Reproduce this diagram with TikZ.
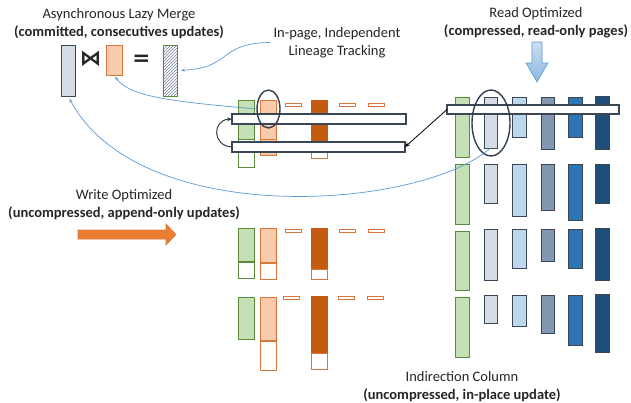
\documentclass[tikz,border=0pt]{standalone}
\usepackage{fontspec}
\setmainfont{Carlito}
\newfontfamily\symfont{DejaVu Sans}
\usetikzlibrary{arrows.meta,patterns,shadows,shapes.geometric}
\definecolor{cgrey}{HTML}{D6DCE5}
\definecolor{clblue}{HTML}{BDD7EE}
\definecolor{cmblue}{HTML}{8497B0}
\definecolor{hatchcol}{HTML}{6F819C}
\definecolor{cblue}{HTML}{2E75B6}
\definecolor{cdblue}{HTML}{1F4E79}
\definecolor{barline}{HTML}{3B4656}
\definecolor{cgreen}{HTML}{C5E0B4}
\definecolor{greenline}{HTML}{5A8A3C}
\definecolor{cpale}{HTML}{F8CBAD}
\definecolor{paleline}{HTML}{D9773A}
\definecolor{cdorange}{HTML}{C55A11}
\definecolor{corange}{HTML}{ED7D31}
\definecolor{curveblue}{HTML}{5B9BD5}
\definecolor{ringcol}{HTML}{333F50}
\tikzset{
  bar/.style={line width=1pt,inner sep=0pt,outer sep=0pt,anchor=north west},
  shad/.style={drop shadow={opacity=0.25,shadow xshift=0.8pt,shadow yshift=-0.8pt}},
  greybar/.style={bar,shad,draw=barline,fill=cgrey},
  lbluebar/.style={bar,shad,draw=barline,fill=clblue},
  mbluebar/.style={bar,shad,draw=barline,fill=cmblue},
  bluebar/.style={bar,shad,draw=barline,fill=cblue},
  dbluebar/.style={bar,shad,draw=barline,fill=cdblue},
  greenbar/.style={bar,shad,draw=greenline,fill=cgreen},
  greenempty/.style={bar,draw=greenline,fill=white},
  palebar/.style={bar,shad,draw=paleline,fill=cpale},
  orangeempty/.style={bar,draw=paleline,fill=white},
  dorangebar/.style={bar,shad,draw=cdorange,fill=cdorange},
  dashbox/.style={bar,draw=paleline,fill=white},
  hatchbar/.style={bar,draw=greenline,pattern=north east lines,pattern color=hatchcol},
  rowbox/.style={bar,draw=barline,fill=white,line width=1.15pt},
  ring/.style={ellipse,draw=ringcol,line width=1.4pt,inner sep=0pt},
  bluecurve/.style={draw=curveblue,line width=0.7pt,-{Stealth[length=4pt,width=3pt]}},
  blackarrow/.style={draw=black,line width=0.8pt,-{Stealth[length=5pt,width=4pt]}},
  darkarrow/.style={draw=ringcol,line width=1pt,-{Stealth[length=5pt,width=4pt]}},
  txt/.style={align=center,font=\fontsize{14.5}{18}\selectfont,text=black!85},
  symb/.style={inner sep=0pt,font=\symfont\bfseries\fontsize{21.5}{22}\selectfont,text=black!85}
}
\newcommand\mkbar[6]{\node[#1,minimum width={(#4-#2)*1pt},minimum height={(#5-#3)*1pt}] (#6) at (#2,#3) {};}
\begin{document}
\begin{tikzpicture}[x=1pt,y=-1pt]
\path[use as bounding box,fill=white] (0,0) rectangle (631,402);

% ---- legend (top left)
\node[txt] (lazy) at (119,24) {Asynchronous Lazy Merge\\\textbf{(committed, consecutives updates)}};
\mkbar{greybar}{61}{45}{75}{96}{mg}
\node[symb] (jn) at (90.5,58.5) {⋈};
\mkbar{palebar}{106}{45}{122}{75}{mo}
\node[symb] (eq) at (141.5,60) {=};
\mkbar{hatchbar}{163}{45}{177}{96}{mh}
\node[txt] (ip) at (337,42.5) {In-page, Independent\\Lineage Tracking};

% ---- read optimized label and arrow
\node[txt] (ro) at (536,22.5) {Read Optimized\\\textbf{(compressed, read-only pages)}};
\path[top color=clblue!80,bottom color=curveblue!70,draw=curveblue,line width=0.6pt]
  (532,42) -- (542,42) -- (542,63) -- (548,63) -- (537,82) -- (526,63) -- (532,63) -- cycle;

% ---- write optimized label and arrow
\node[txt] (wo) at (124,204.5) {Write Optimized\\\textbf{(uncompressed, append-only updates)}};
\path[fill=corange,draw=cdorange!80,line width=0.6pt]
  (78,230) -- (166,230) -- (166,224) -- (176,234.5) -- (166,245) -- (166,239) -- (78,239) -- cycle;

% ---- indirection label
\node[txt] (ic) at (462,386.5) {Indirection Column\\\textbf{(uncompressed, in-place update)}};

% ---- middle group, row 1
\mkbar{greenbar}{238}{100}{254}{139}{g1}
\mkbar{greenempty}{238}{139}{254}{167}{g1w}
\mkbar{palebar}{260}{100}{276}{139}{o1}
\mkbar{palebar}{260}{139}{276}{155}{o1b}
\mkbar{dashbox}{285}{103}{301}{106}{da1}
\mkbar{dorangebar}{311}{100}{327}{152}{d1}
\mkbar{orangeempty}{311}{152}{327}{158}{d1w}
\mkbar{dashbox}{339}{103}{355}{106}{db1}
\mkbar{dashbox}{368}{103}{384}{106}{dc1}
% row 2
\mkbar{greenbar}{238}{228}{254}{261}{g2}
\mkbar{greenempty}{238}{262}{254}{278}{g2w}
\mkbar{palebar}{260}{228}{276}{262}{o2}
\mkbar{orangeempty}{260}{263}{276}{279}{o2w}
\mkbar{dashbox}{285}{229}{301}{232}{da2}
\mkbar{dorangebar}{311}{228}{327}{268}{d2}
\mkbar{orangeempty}{311}{269}{327}{279}{d2w}
\mkbar{dashbox}{339}{229}{355}{232}{db2}
\mkbar{dashbox}{368}{229}{384}{232}{dc2}
% row 3
\mkbar{greenbar}{238}{297}{254}{339}{g3}
\mkbar{palebar}{260}{297}{276}{340}{o3}
\mkbar{orangeempty}{260}{341}{276}{370}{o3w}
\mkbar{dashbox}{283}{296}{299}{299}{da3}
\mkbar{dorangebar}{311}{296}{327}{352}{d3}
\mkbar{orangeempty}{311}{353}{327}{369}{d3w}
\mkbar{dashbox}{338}{296}{354}{299}{db3}
\mkbar{dashbox}{367}{296}{383}{299}{dc3}

% ---- right group: indirection column
\mkbar{greenbar}{455}{97}{469}{157}{i1}
\mkbar{greenbar}{455}{164}{469}{224}{i2}
\mkbar{greenbar}{455}{231}{469}{290}{i3}
\mkbar{greenbar}{455}{297}{469}{357}{i4}
% row 1
\mkbar{greybar}{484}{97}{497}{148}{r1a}
\mkbar{lbluebar}{512}{97}{526}{137}{r1b}
\mkbar{mbluebar}{541}{97}{554}{149}{r1c}
\mkbar{bluebar}{568}{97}{582}{137}{r1d}
\mkbar{dbluebar}{595}{96}{609}{149}{r1e}
% row 2
\mkbar{greybar}{484}{164}{497}{203}{r2a}
\mkbar{lbluebar}{512}{164}{526}{216}{r2b}
\mkbar{mbluebar}{541}{164}{554}{210}{r2c}
\mkbar{bluebar}{568}{164}{582}{220}{r2d}
\mkbar{dbluebar}{595}{164}{609}{203}{r2e}
% row 3
\mkbar{greybar}{484}{229}{497}{280}{r3a}
\mkbar{lbluebar}{512}{229}{526}{268}{r3b}
\mkbar{mbluebar}{541}{229}{554}{261}{r3c}
\mkbar{bluebar}{568}{229}{582}{268}{r3d}
\mkbar{dbluebar}{595}{228}{609}{280}{r3e}
% row 4
\mkbar{greybar}{484}{295}{497}{323}{r4a}
\mkbar{lbluebar}{512}{295}{526}{326}{r4b}
\mkbar{mbluebar}{541}{295}{554}{333}{r4c}
\mkbar{bluebar}{568}{295}{582}{345}{r4d}
\mkbar{dbluebar}{595}{294}{609}{352}{r4e}

% ---- record rows (horizontal boxes)
\mkbar{rowbox}{232}{114}{406}{124}{hr1}
\mkbar{rowbox}{232}{142}{405}{152}{hr2}
\mkbar{rowbox}{447}{105}{619}{114}{hr3}

% ---- rings
\node[ring,minimum width=23pt,minimum height=38pt] (el1) at (268.5,109) {};
\node[ring,minimum width=38pt,minimum height=66pt] (el2) at (491,123) {};

% ---- connectors
\draw[bluecurve,shorten >=4pt] (ip.west) .. controls (218,43) and (232,68) .. (mh.east);
\draw[bluecurve,shorten >=2pt] (el1.west) .. controls (180,102) and (130,98) .. (mo.south);
\draw[bluecurve,shorten >=3pt] (r1a.south) .. controls (420,210) and (140,230) .. (mg.south);
\draw[blackarrow] (hr3.west) -- (hr2.east);
\draw[darkarrow] (hr2.west) .. controls (212,146) and (212,120) .. (hr1.west);
\end{tikzpicture}
\end{document}
